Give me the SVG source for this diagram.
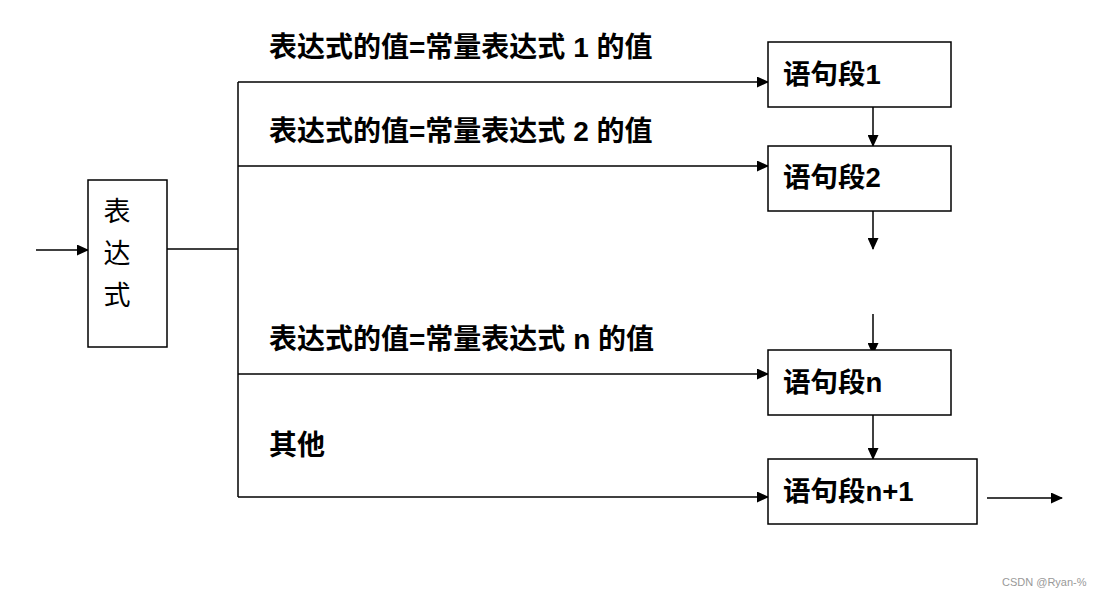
<svg xmlns="http://www.w3.org/2000/svg" width="1097" height="598" viewBox="0 0 1097 598">
<style>
.box{fill:#fff;stroke:#000;stroke-width:1.5}
.ln{fill:none;stroke:#000;stroke-width:1.5}
.t{font-family:"Liberation Sans","Noto Sans CJK SC",sans-serif;font-weight:bold;font-size:28px;fill:#000}
.b{font-family:"Liberation Sans","Noto Sans CJK SC",sans-serif;font-weight:bold;font-size:27.5px;fill:#000}
.tn{font-family:"Liberation Sans","Noto Sans CJK SC",sans-serif;font-size:27px;fill:#000}
.wm{font-family:"Liberation Sans","Noto Sans CJK SC",sans-serif;font-size:11px;fill:#999}
</style>
<defs>
<marker id="ah" markerWidth="12" markerHeight="11" refX="11" refY="5.5" orient="auto" markerUnits="userSpaceOnUse">
<path d="M0,0 L12,5.5 L0,11 Z" fill="#000"/>
</marker>
</defs>
<rect width="1097" height="598" fill="#fff"/>
<g id="connectors">
<line class="ln" x1="36" y1="250" x2="88" y2="250" marker-end="url(#ah)"/>
<line class="ln" x1="163" y1="249" x2="238" y2="249"/>
<line class="ln" x1="238" y1="82" x2="238" y2="497"/>
<line class="ln" x1="238" y1="82" x2="768" y2="82" marker-end="url(#ah)"/>
<line class="ln" x1="238" y1="166" x2="768" y2="166" marker-end="url(#ah)"/>
<line class="ln" x1="238" y1="374" x2="768" y2="374" marker-end="url(#ah)"/>
<line class="ln" x1="238" y1="497" x2="768" y2="497" marker-end="url(#ah)"/>
<line class="ln" x1="873" y1="107" x2="873" y2="146" marker-end="url(#ah)"/>
<line class="ln" x1="873" y1="211" x2="873" y2="249" marker-end="url(#ah)"/>
<line class="ln" x1="873" y1="314" x2="873" y2="354" marker-end="url(#ah)"/>
<line class="ln" x1="873" y1="415" x2="873" y2="459" marker-end="url(#ah)"/>
<line class="ln" x1="987" y1="498" x2="1062" y2="498" marker-end="url(#ah)"/>
</g>
<g id="labels">
<text class="t" x="269" y="57">表达式的值=常量表达式 1 的值</text>
<text class="t" x="269" y="141">表达式的值=常量表达式 2 的值</text>
<text class="t" x="269" y="349">表达式的值=常量表达式 n 的值</text>
<text class="t" x="269" y="455">其他</text>
</g>
<g id="expr">
<rect class="box" x="88" y="180" width="79" height="167"/>
<text class="tn" x="117" y="221" text-anchor="middle">表</text>
<text class="tn" x="117" y="263" text-anchor="middle">达</text>
<text class="tn" x="117" y="305" text-anchor="middle">式</text>
</g>
<g id="s1">
<rect class="box" x="768" y="42" width="183" height="65"/>
<text class="b" x="783" y="84">语句段1</text>
</g>
<g id="s2">
<rect class="box" x="768" y="146" width="183" height="65"/>
<text class="b" x="783" y="187">语句段2</text>
</g>
<g id="sn">
<rect class="box" x="768" y="350" width="183" height="65"/>
<text class="b" x="783" y="392">语句段n</text>
</g>
<g id="sn1">
<rect class="box" x="768" y="459" width="209" height="65"/>
<text class="b" x="783" y="501">语句段n+1</text>
</g>
<text class="wm" x="1002" y="586">CSDN @Ryan-%</text>
</svg>
